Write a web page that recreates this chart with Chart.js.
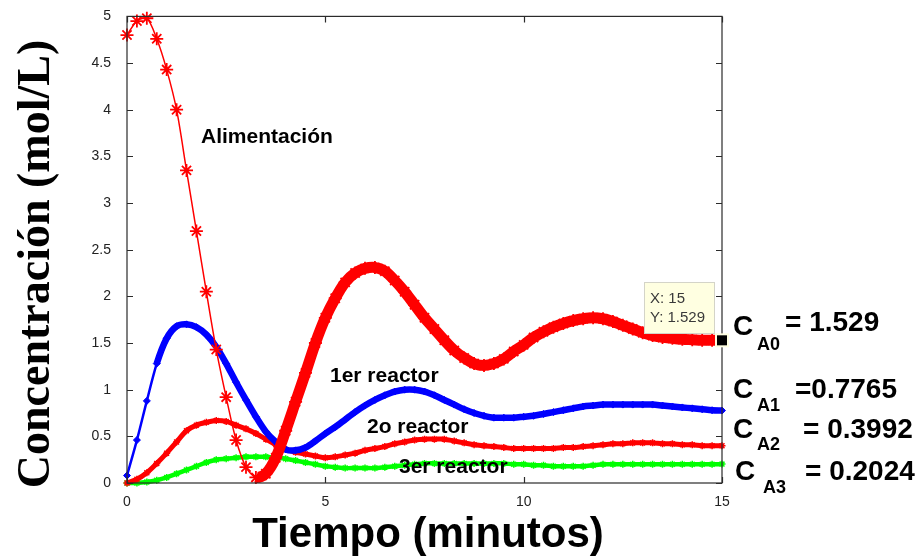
<!DOCTYPE html>
<html>
<head>
<meta charset="utf-8">
<script src="https://cdn.jsdelivr.net/npm/chart.js@4.4.0/dist/chart.umd.min.js"></script>
<style>
  html, body { margin: 0; padding: 0; background: #fff; }
  #wrap { width: 923px; height: 557px; }
</style>
</head>
<body>
<div id="wrap"><canvas id="grafica" width="923" height="557"></canvas></div>
<script>
// ── Datos ───────────────────────────────────────────────────
const tiempo = [0, 0.25, 0.5, 0.75, 1, 1.25, 1.5, 1.75, 2, 2.25,
    2.5, 2.75, 3, 3.25, 3.5, 3.75, 4, 4.25, 4.5, 4.75,
    5, 5.25, 5.5, 5.75, 6, 6.25, 6.5, 6.75, 7, 7.25,
    7.5, 7.75, 8, 8.25, 8.5, 8.75, 9, 9.25, 9.5, 9.75,
    10, 10.25, 10.5, 10.75, 11, 11.25, 11.5, 11.75, 12, 12.25,
    12.5, 12.75, 13, 13.25, 13.5, 13.75, 14, 14.25, 14.5, 14.75, 15];

const alimentacion = [4.80, 4.95, 4.98, 4.76, 4.43, 4.00, 3.35, 2.70, 2.05, 1.43,
    0.92, 0.46, 0.17, 0.06, 0.10, 0.27, 0.56, 0.87, 1.18, 1.50,
    1.77, 1.98, 2.15, 2.25, 2.30, 2.31, 2.27, 2.17, 2.05, 1.91,
    1.77, 1.65, 1.53, 1.42, 1.34, 1.28, 1.26, 1.28, 1.33, 1.41,
    1.48, 1.56, 1.62, 1.67, 1.71, 1.74, 1.76, 1.77, 1.76, 1.73,
    1.69, 1.65, 1.61, 1.58, 1.56, 1.55, 1.54, 1.535, 1.53, 1.53, 1.529];

const reactor1 = [0.08, 0.46, 0.88, 1.28, 1.55, 1.68, 1.70, 1.67, 1.59, 1.46,
    1.28, 1.08, 0.89, 0.71, 0.55, 0.44, 0.36, 0.35, 0.38, 0.45,
    0.53, 0.60, 0.68, 0.76, 0.83, 0.89, 0.94, 0.98, 1.00, 1.00,
    0.98, 0.94, 0.89, 0.84, 0.79, 0.75, 0.72, 0.70, 0.70, 0.70,
    0.71, 0.72, 0.74, 0.76, 0.78, 0.80, 0.82, 0.83, 0.84, 0.84,
    0.84, 0.84, 0.84, 0.84, 0.83, 0.82, 0.81, 0.80, 0.79, 0.78, 0.7765];

const reactor2 = [0, 0.04, 0.11, 0.21, 0.32, 0.44, 0.56, 0.62, 0.65, 0.67,
    0.66, 0.62, 0.58, 0.53, 0.47, 0.41, 0.36, 0.33, 0.31, 0.29,
    0.27, 0.28, 0.30, 0.32, 0.35, 0.37, 0.39, 0.42, 0.44, 0.46,
    0.47, 0.47, 0.47, 0.45, 0.43, 0.41, 0.40, 0.39, 0.38, 0.37,
    0.37, 0.37, 0.37, 0.37, 0.38, 0.38, 0.39, 0.40, 0.41, 0.42,
    0.42, 0.43, 0.43, 0.43, 0.42, 0.42, 0.41, 0.41, 0.40, 0.40, 0.3992];

const reactor3 = [0, 0.00, 0.01, 0.03, 0.06, 0.10, 0.14, 0.18, 0.22, 0.25,
    0.26, 0.27, 0.28, 0.28, 0.28, 0.27, 0.26, 0.24, 0.22, 0.20,
    0.18, 0.17, 0.16, 0.16, 0.16, 0.16, 0.17, 0.18, 0.19, 0.20,
    0.21, 0.21, 0.21, 0.21, 0.21, 0.21, 0.21, 0.21, 0.21, 0.20,
    0.20, 0.19, 0.19, 0.18, 0.18, 0.18, 0.18, 0.19, 0.20, 0.20,
    0.20, 0.20, 0.20, 0.20, 0.20, 0.20, 0.20, 0.20, 0.20, 0.20, 0.2024];

const ticksX = [0, 5, 10, 15];
const ticksY = [0, 0.5, 1, 1.5, 2, 2.5, 3, 3.5, 4, 4.5, 5];

const subindices = ['A0', 'A1', 'A2', 'A3'];
const valoresFinales = ['= 1.529', '=0.7765', '= 0.3992', '= 0.2024'];
const punto = { x: 15, y: 1.529 };

// ── Helpers ─────────────────────────────────────────────────
const puntos = serie => tiempo.map((t, i) => ({ x: t, y: serie[i] }));
const ROJO = '#ff0000', AZUL = '#0000ff', VERDE = '#00ff00';
const TICK_FONT = { family: 'Arial, "Liberation Sans", sans-serif', size: 14 };
// trazo fino donde los marcadores se ven sueltos, grueso donde forman banda
const grosor = (desde, fino, grueso) => ctx => ctx.p0.parsed.x >= desde ? grueso : fino;

// ── Plugin: marco, marcas internas y anotaciones ────────────
const anotaciones = {
    id: 'anotaciones',
    afterDatasetsDraw(chart) {
        const { ctx, chartArea: a, scales: { x, y } } = chart;
        ctx.save();

        // marco tipo MATLAB con marcas hacia dentro
        ctx.strokeStyle = '#2b2b2b';
        ctx.lineWidth = 1.2;
        ctx.strokeRect(a.left, a.top, a.right - a.left, a.bottom - a.top);
        ctx.beginPath();
        ticksX.forEach(v => {
            const px = Math.round(x.getPixelForValue(v)) + 0.5;
            ctx.moveTo(px, a.bottom); ctx.lineTo(px, a.bottom - 6);
            ctx.moveTo(px, a.top); ctx.lineTo(px, a.top + 6);
        });
        ticksY.forEach(v => {
            const py = Math.round(y.getPixelForValue(v)) + 0.5;
            ctx.moveTo(a.left, py); ctx.lineTo(a.left + 6, py);
            ctx.moveTo(a.right, py); ctx.lineTo(a.right - 6, py);
        });
        ctx.stroke();

        // etiquetas de las curvas
        ctx.fillStyle = '#000';
        ctx.font = 'bold 21px Arial, "Liberation Sans", sans-serif';
        ctx.textAlign = 'left';
        ctx.textBaseline = 'alphabetic';
        ctx.fillText('Alimentación', 201, 143);
        ctx.fillText('1er reactor', 330, 382);
        ctx.fillText('2o reactor', 367, 433);
        ctx.fillText('3er reactor', 399, 473);

        // dato seleccionado (datatip)
        const px = x.getPixelForValue(punto.x), py = y.getPixelForValue(punto.y);
        ctx.fillStyle = '#ffffe1';
        ctx.strokeStyle = '#d4d4c8';
        ctx.lineWidth = 1;
        ctx.fillRect(644, 282, 70, 51);
        ctx.strokeRect(644.5, 282.5, 70, 51);
        ctx.fillStyle = '#3a3a3a';
        ctx.font = '15px Arial, "Liberation Sans", sans-serif';
        ctx.fillText('X: ' + punto.x, 650, 303);
        ctx.fillText('Y: ' + punto.y, 650, 322);
        ctx.fillStyle = '#ffffe1';
        ctx.fillRect(px - 7, py - 7, 14, 14);
        ctx.fillStyle = '#000';
        ctx.fillRect(px - 5, py - 5, 10, 10);

        ctx.restore();
    },
    afterDraw(chart) {
        const { ctx } = chart;
        ctx.save();
        ctx.fillStyle = '#000';
        ctx.textBaseline = 'alphabetic';
        ctx.textAlign = 'left';

        // valores finales a la derecha
        const filas = [
            { c: [733, 335], s: [757, 350], v: [785, 331] },
            { c: [733, 398], s: [757, 411], v: [795, 398] },
            { c: [733, 438], s: [757, 450], v: [803, 438] },
            { c: [735, 480], s: [763, 493], v: [805, 480] }
        ];
        filas.forEach((f, i) => {
            ctx.font = 'bold 28px Arial, "Liberation Sans", sans-serif';
            ctx.fillText('C', f.c[0], f.c[1]);
            ctx.fillText(valoresFinales[i], f.v[0], f.v[1]);
            ctx.font = 'bold 18px Arial, "Liberation Sans", sans-serif';
            ctx.fillText(subindices[i], f.s[0], f.s[1]);
        });

        // títulos de ejes
        ctx.font = 'bold 42px Arial, "Liberation Sans", sans-serif';
        ctx.textAlign = 'center';
        ctx.fillText('Tiempo (minutos)', 428, 547);

        ctx.translate(49, 264);
        ctx.rotate(-Math.PI / 2);
        ctx.font = 'bold 46px "Times New Roman", "Liberation Serif", serif';
        ctx.fillText('Concentración (mol/L)', 0, 0);
        ctx.restore();
    }
};

// ── Gráfica ─────────────────────────────────────────────────
new Chart(document.getElementById('grafica'), {
    type: 'line',
    data: {
        datasets: [
            {
                label: 'Alimentación', data: puntos(alimentacion), order: 0,
                borderColor: ROJO, borderWidth: 1.5, tension: 0.3,
                segment: { borderWidth: grosor(3.25, 1.5, 11) },
                pointStyle: 'star', pointRadius: 6.5, pointBorderWidth: 1.8,
                pointBorderColor: ROJO, pointBackgroundColor: ROJO, clip: 8
            },
            {
                label: '1er reactor', data: puntos(reactor1), order: 1,
                borderColor: AZUL, borderWidth: 6, tension: 0.3,
                segment: { borderWidth: grosor(0.75, 2.5, 6.5) },
                pointStyle: 'rectRot', pointRadius: 3.5, pointBorderWidth: 1,
                pointBorderColor: AZUL, pointBackgroundColor: AZUL, clip: 8
            },
            {
                label: '2o reactor', data: puntos(reactor2), order: 2,
                borderColor: ROJO, borderWidth: 5, tension: 0.3,
                pointStyle: 'star', pointRadius: 3.5, pointBorderWidth: 1.5,
                pointBorderColor: ROJO, pointBackgroundColor: ROJO, clip: 8
            },
            {
                label: '3er reactor', data: puntos(reactor3), order: 3,
                borderColor: VERDE, borderWidth: 4.5, tension: 0.3,
                pointStyle: 'star', pointRadius: 3.5, pointBorderWidth: 1.5,
                pointBorderColor: VERDE, pointBackgroundColor: VERDE, clip: 8
            }
        ]
    },
    options: {
        responsive: false,
        animation: false,
        devicePixelRatio: 1,
        layout: { padding: { left: 0, right: 201, top: 13, bottom: 0 } },
        plugins: { legend: { display: false }, tooltip: { enabled: false } },
        scales: {
            x: {
                type: 'linear', min: 0, max: 15,
                afterBuildTicks: s => { s.ticks = ticksX.map(v => ({ value: v })); },
                afterFit: s => { s.height = 74; },
                grid: { display: false }, border: { display: false },
                ticks: { font: TICK_FONT, color: '#222', padding: 3, maxRotation: 0, callback: v => String(v) }
            },
            y: {
                type: 'linear', min: 0, max: 5,
                afterBuildTicks: s => { s.ticks = ticksY.map(v => ({ value: v })); },
                afterFit: s => { s.width = 127; },
                grid: { display: false }, border: { display: false },
                ticks: { font: TICK_FONT, color: '#222', padding: 8, callback: v => String(v) }
            }
        }
    },
    plugins: [anotaciones]
});
</script>
</body>
</html>
